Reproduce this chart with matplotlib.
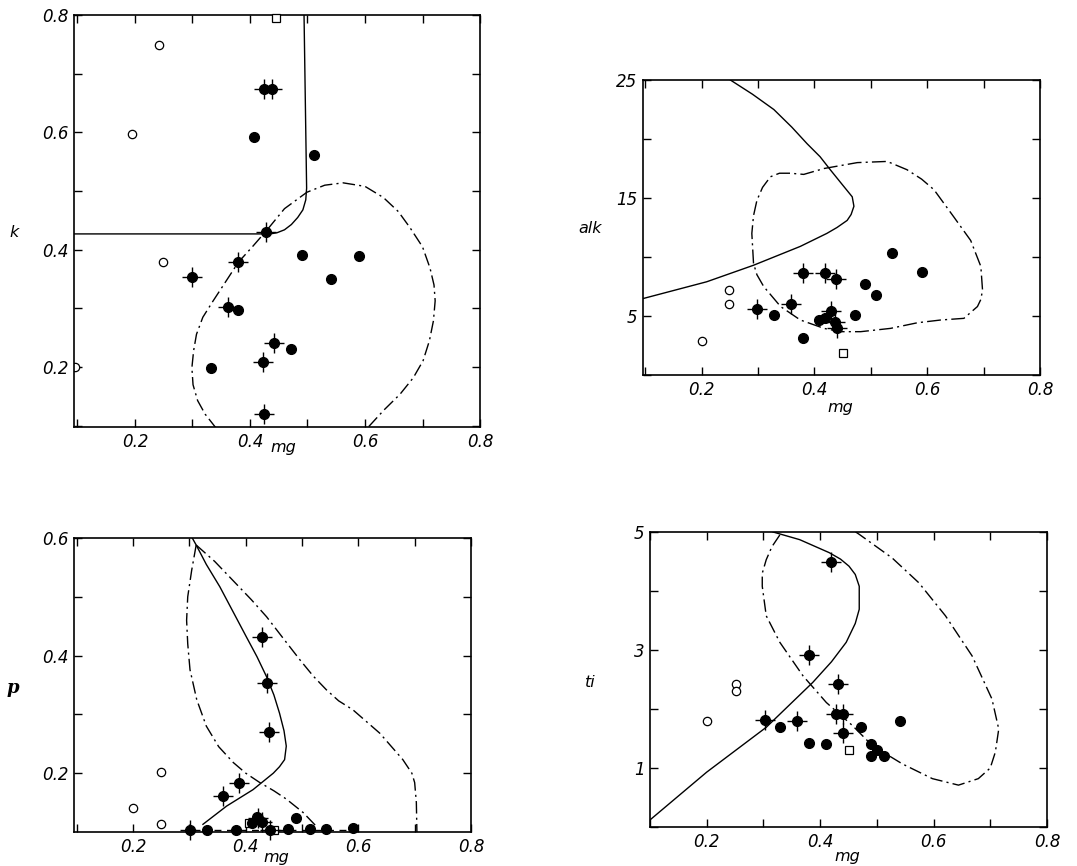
import numpy as np
import matplotlib
matplotlib.use("Agg")
import matplotlib.pyplot as plt
from matplotlib.ticker import FixedLocator

# ---- panel k ----
k_open_mg = [0.242, 0.194, 0.248]
k_open = [0.749, 0.598, 0.379]
k_edge_mg = [0.096]   # half-hidden mark on the left frame
k_edge = [0.200]
k_sq_mg = [0.445]
k_sq = [0.795]
k_fill_mg = [0.407, 0.511, 0.490, 0.590, 0.541, 0.379, 0.471, 0.332]
k_fill = [0.592, 0.562, 0.391, 0.390, 0.350, 0.297, 0.231, 0.199]
k_cross_mg = [0.425, 0.438, 0.428, 0.380, 0.299, 0.361, 0.442, 0.422, 0.424]
k_cross = [0.674, 0.674, 0.430, 0.380, 0.353, 0.303, 0.242, 0.209, 0.120]
k_solid_mg = [0.494, 0.4985, 0.497, 0.492, 0.483, 0.472, 0.460, 0.447, 0.435, 0.09]
k_solid = [0.80, 0.505, 0.485, 0.468, 0.455, 0.443, 0.434, 0.429, 0.427, 0.427]
k_dd_mg = [0.342, 0.322, 0.309, 0.301, 0.299, 0.302, 0.307, 0.318, 0.336, 0.358, 0.380,
           0.405, 0.429, 0.460, 0.499, 0.530, 0.562, 0.600, 0.632, 0.658, 0.678, 0.700,
           0.713, 0.720, 0.722, 0.719, 0.712, 0.701, 0.684, 0.661, 0.633, 0.603]
k_dd = [0.095, 0.120, 0.143, 0.170, 0.199, 0.228, 0.256, 0.285, 0.313, 0.346, 0.379,
        0.406, 0.433, 0.470, 0.498, 0.510, 0.514, 0.508, 0.489, 0.465, 0.438, 0.405,
        0.369, 0.340, 0.313, 0.279, 0.245, 0.211, 0.182, 0.154, 0.127, 0.095]

# ---- panel alk ----
alk_open_mg = [0.249, 0.249, 0.200]
alk_open = [7.2, 6.0, 2.85]
alk_sq_mg = [0.450]
alk_sq = [1.84]
alk_fill_mg = [0.538, 0.591, 0.490, 0.509, 0.472, 0.329, 0.408, 0.419, 0.379]
alk_fill = [10.3, 8.76, 7.71, 6.77, 5.10, 5.12, 4.65, 4.80, 3.15]
alk_cross_mg = [0.379, 0.418, 0.438, 0.358, 0.299, 0.429, 0.436, 0.440]
alk_cross = [8.67, 8.62, 8.10, 6.00, 5.56, 5.45, 4.50, 3.95]
alk_solid_mg = [0.251, 0.290, 0.328, 0.360, 0.387, 0.410, 0.428, 0.450, 0.467, 0.470,
                0.465, 0.458, 0.440, 0.422, 0.375, 0.292, 0.209, 0.090]
alk_solid = [25.0, 23.8, 22.5, 21.0, 19.6, 18.5, 17.4, 16.1, 15.1, 14.3,
             13.6, 13.1, 12.5, 12.0, 10.9, 9.3, 7.9, 6.4]
alk_dd_mg = [0.292, 0.289, 0.292, 0.298, 0.308, 0.322, 0.338, 0.357, 0.381, 0.417, 0.476,
             0.529, 0.564, 0.590, 0.612, 0.647, 0.677, 0.695, 0.698, 0.695, 0.689, 0.665,
             0.624, 0.583, 0.535, 0.482, 0.446, 0.417, 0.375, 0.340, 0.310, 0.298, 0.292]
alk_dd = [9.46, 12.0, 13.5, 14.8, 15.9, 16.8, 17.1, 17.1, 17.0, 17.5, 18.0,
          18.1, 17.4, 16.6, 15.7, 13.4, 11.4, 9.2, 7.2, 6.4, 5.8, 4.8,
          4.66, 4.43, 3.95, 3.67, 3.67, 3.95, 4.66, 5.8, 7.5, 8.5, 9.46]

# ---- panel p ----
p_open_mg = [0.249, 0.200, 0.250]
p_open = [0.202, 0.140, 0.114]
p_sq_mg = [0.405, 0.451]
p_sq = [0.115, 0.104]
p_fill_mg = [0.331, 0.382, 0.412, 0.420, 0.475, 0.490, 0.514, 0.542, 0.590]
p_fill = [0.104, 0.104, 0.115, 0.126, 0.105, 0.123, 0.105, 0.105, 0.106]
p_cross_mg = [0.428, 0.438, 0.441, 0.388, 0.360, 0.301, 0.422, 0.429, 0.443]
p_cross = [0.432, 0.353, 0.270, 0.184, 0.162, 0.104, 0.124, 0.117, 0.104]
p_solid_mg = [0.305, 0.312, 0.330, 0.354, 0.380, 0.401, 0.420, 0.437, 0.450, 0.460,
              0.468, 0.472, 0.469, 0.460, 0.449, 0.413, 0.366, 0.324]
p_solid = [0.600, 0.588, 0.555, 0.517, 0.470, 0.432, 0.398, 0.364, 0.333, 0.302,
           0.272, 0.246, 0.223, 0.211, 0.200, 0.172, 0.144, 0.113]
p_dd1_mg = [0.312, 0.304, 0.297, 0.295, 0.297, 0.301, 0.313, 0.330, 0.352, 0.378,
            0.400, 0.425, 0.450, 0.472, 0.502, 0.525]
p_dd1 = [0.588, 0.545, 0.500, 0.460, 0.420, 0.376, 0.325, 0.280, 0.245, 0.218,
         0.200, 0.184, 0.170, 0.156, 0.133, 0.110]
p_dd2_mg = [0.312, 0.345, 0.377, 0.410, 0.437, 0.466, 0.496, 0.520, 0.543, 0.565,
            0.590, 0.638, 0.679, 0.695, 0.700, 0.703, 0.704]
p_dd2 = [0.588, 0.560, 0.528, 0.495, 0.466, 0.430, 0.393, 0.365, 0.342, 0.323,
         0.308, 0.268, 0.223, 0.200, 0.184, 0.150, 0.100]
p_base_mg = [0.300, 0.600]
p_base = [0.104, 0.104]

# ---- panel ti ----
ti_open_mg = [0.201, 0.251, 0.251]
ti_open = [1.80, 2.42, 2.31]
ti_sq_mg = [0.451]
ti_sq = [1.31]
ti_fill_mg = [0.330, 0.381, 0.410, 0.472, 0.489, 0.501, 0.489, 0.512, 0.540]
ti_fill = [1.70, 1.42, 1.40, 1.70, 1.41, 1.30, 1.20, 1.20, 1.80]
ti_cross_mg = [0.420, 0.381, 0.431, 0.302, 0.360, 0.428, 0.440, 0.440]
ti_cross = [4.49, 2.91, 2.42, 1.82, 1.80, 1.91, 1.91, 1.59]
ti_solid_mg = [0.100, 0.200, 0.305, 0.387, 0.420, 0.446, 0.462, 0.469, 0.469, 0.462,
               0.451, 0.436, 0.416, 0.364, 0.317]
ti_solid = [0.12, 0.93, 1.69, 2.45, 2.80, 3.13, 3.45, 3.69, 4.08, 4.28,
            4.42, 4.54, 4.65, 4.87, 5.00]
ti_dd_mg = [0.329, 0.315, 0.305, 0.298, 0.298, 0.305, 0.329, 0.370, 0.411, 0.457,
            0.492, 0.545, 0.598, 0.644, 0.679, 0.700, 0.709, 0.715, 0.703, 0.668,
            0.621, 0.574, 0.527, 0.469, 0.455]
ti_dd = [4.95, 4.75, 4.53, 4.30, 4.08, 3.58, 3.13, 2.56, 2.11, 1.72,
         1.38, 1.07, 0.82, 0.71, 0.82, 1.00, 1.27, 1.66, 2.17, 2.90,
         3.58, 4.14, 4.56, 4.96, 5.05]

mg_labels = ["0.2", "0.4", "0.6", "0.8"]

fig = plt.figure(figsize=(10.77, 8.66), dpi=100)
tickfont = dict(family="DejaVu Sans", style="italic", size=12)
DD = (0, (9, 3, 1.5, 3))


def style_axes(ax, xlim, ylim, ymajor, ylabels, yminor):
    ax.set_xlim(*xlim)
    ax.set_ylim(*ylim)
    ax.xaxis.set_major_locator(FixedLocator([0.2, 0.4, 0.6, 0.8]))
    ax.xaxis.set_minor_locator(FixedLocator([0.1, 0.3, 0.5, 0.7]))
    ax.set_xticklabels(mg_labels, **tickfont)
    ax.yaxis.set_major_locator(FixedLocator(ymajor))
    ax.yaxis.set_minor_locator(FixedLocator(yminor))
    ax.set_yticklabels(ylabels, **tickfont)
    ax.tick_params(which="both", direction="in", top=True, right=True,
                   length=6, width=1, pad=4)
    for s in ax.spines.values():
        s.set_linewidth(1.2)


def points(ax, o, sq, f, c):
    kw = dict(ls="none", clip_on=False)
    ax.plot(*o, "o", mfc="white", mec="black", ms=6, mew=0.9, zorder=5, **kw)
    ax.plot(*sq, "s", mfc="white", mec="black", ms=5.5, mew=0.9, zorder=5, **kw)
    ax.plot(*f, "o", color="black", ms=7, zorder=5, **kw)
    ax.plot(*c, "o", color="black", ms=7, zorder=5, **kw)
    ax.plot(*c, "+", color="black", ms=14, mew=1.0, zorder=6, **kw)


def labels(ax, ylab, ypos, xpos, **ykw):
    ax.text(ypos[0], ypos[1], ylab, transform=ax.transAxes, ha="center", va="center",
            **ykw)
    ax.text(xpos[0], xpos[1], "mg", transform=ax.transAxes, ha="center", va="center",
            style="italic", fontsize=11.5)


# panel k
ax1 = fig.add_axes([0.0687, 0.5069, 0.377, 0.4758])
ax1.plot(k_solid_mg, k_solid, color="black", lw=1)
ax1.plot(k_dd_mg, k_dd, color="black", lw=1, ls=DD)
ax1.plot(k_edge_mg, k_edge, "o", mfc="white", mec="black", ms=6, mew=0.9)
points(ax1, (k_open_mg, k_open), (k_sq_mg, k_sq), (k_fill_mg, k_fill), (k_cross_mg, k_cross))
style_axes(ax1, (0.094, 0.8), (0.098, 0.8), [0.2, 0.4, 0.6, 0.8],
           ["0.2", "0.4", "0.6", "0.8"], [0.1, 0.3, 0.5, 0.7])
labels(ax1, "k", (-0.148, 0.473), (0.515, -0.05), style="italic", fontsize=11.5)

# panel alk
ax2 = fig.add_axes([0.597, 0.567, 0.3687, 0.3406])
ax2.plot(alk_solid_mg, alk_solid, color="black", lw=1)
ax2.plot(alk_dd_mg, alk_dd, color="black", lw=1, ls=(0, (10, 3, 1.5, 3)))
points(ax2, (alk_open_mg, alk_open), (alk_sq_mg, alk_sq), (alk_fill_mg, alk_fill),
       (alk_cross_mg, alk_cross))
style_axes(ax2, (0.096, 0.8), (0, 25), [5, 15, 25], ["5", "15", "25"], [0, 10, 20])
labels(ax2, "alk", (-0.134, 0.498), (0.496, -0.11), style="italic", fontsize=11.5)

# panel p
ax3 = fig.add_axes([0.0687, 0.0393, 0.3686, 0.3395])
ax3.plot(p_solid_mg, p_solid, color="black", lw=1)
ax3.plot(p_dd1_mg, p_dd1, color="black", lw=1, ls=DD)
ax3.plot(p_dd2_mg, p_dd2, color="black", lw=1, ls=DD)
ax3.plot(p_base_mg, p_base, color="black", lw=1, ls=(0, (5, 4)))
points(ax3, (p_open_mg, p_open), (p_sq_mg, p_sq), (p_fill_mg, p_fill), (p_cross_mg, p_cross))
style_axes(ax3, (0.095, 0.8), (0.1, 0.6), [0.2, 0.4, 0.6], ["0.2", "0.4", "0.6"],
           [0.3, 0.5])
labels(ax3, "p", (-0.154, 0.49), (0.51, -0.087),
       family="DejaVu Serif", style="italic", weight="bold", fontsize=13)

# panel ti
ax4 = fig.add_axes([0.6035, 0.045, 0.3686, 0.3407])
ax4.plot(ti_solid_mg, ti_solid, color="black", lw=1)
ax4.plot(ti_dd_mg, ti_dd, color="black", lw=1, ls=DD)
points(ax4, (ti_open_mg, ti_open), (ti_sq_mg, ti_sq), (ti_fill_mg, ti_fill),
       (ti_cross_mg, ti_cross))
style_axes(ax4, (0.1, 0.8), (0, 5), [1, 3, 5], ["1", "3", "5"], [0, 2, 4])
labels(ax4, "ti", (-0.151, 0.49), (0.496, -0.10), style="italic", fontsize=11.5)

fig.savefig("out.png", dpi=100)
